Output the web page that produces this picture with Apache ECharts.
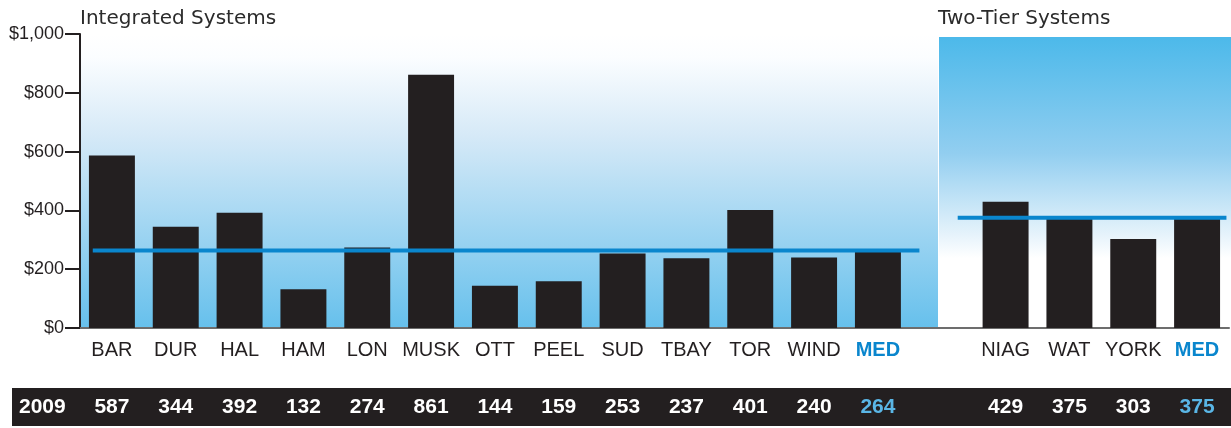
<!DOCTYPE html>
<html>
<head>
<meta charset="utf-8">
<script src="https://cdn.jsdelivr.net/npm/echarts@6/dist/echarts.min.js"></script>
<style>
  html, body { margin: 0; padding: 0; background: #fff; }
  #chart { width: 1231px; height: 428px; }
</style>
</head>
<body>
<div id="chart"></div>
<script>
  // 数据
  const leftTitle = 'Integrated Systems';
  const rightTitle = 'Two-Tier Systems';
  const yearLabel = '2009';
  const leftCats = ['BAR', 'DUR', 'HAL', 'HAM', 'LON', 'MUSK', 'OTT', 'PEEL', 'SUD', 'TBAY', 'TOR', 'WIND', 'MED'];
  const leftVals = [587, 344, 392, 132, 274, 861, 144, 159, 253, 237, 401, 240, 264];
  const rightCats = ['NIAG', 'WAT', 'YORK', 'MED'];
  const rightVals = [429, 375, 303, 375];
  const leftMedian = 264;
  const rightMedian = 375;
  const yTicks = [0, 200, 400, 600, 800, 1000];

  // 左右合并到一个类目轴，中间空一格
  const cats = [...leftCats, '', ...rightCats];
  const vals = [...leftVals, null, ...rightVals];
  const medIdx = [leftCats.length - 1, cats.length - 1];
  const valueLabels = vals.map(v => v == null ? '' : String(v));

  const sans = '"Liberation Sans", Arial, sans-serif';
  const myEcharts = echarts.init(document.getElementById('chart'));

  const option = {
    backgroundColor: '#ffffff',
    animation: false,
    title: [
      { text: leftTitle, left: 75, top: 4, textStyle: { fontFamily: 'DejaVu Sans', fontWeight: 'normal', fontSize: 20, color: '#2b2b2b' } },
      { text: rightTitle, left: 933, top: 4, textStyle: { fontFamily: 'DejaVu Sans', fontWeight: 'normal', fontSize: 20, color: '#2b2b2b' } }
    ],
    graphic: [
      { // 左侧背景
        type: 'rect', z: -10, silent: true,
        shape: { x: 80, y: 34, width: 858, height: 294 },
        style: {
          fill: new echarts.graphic.LinearGradient(0, 0, 0, 1, [
            { offset: 0, color: '#ffffff' },
            { offset: 0.08, color: '#fbfdff' },
            { offset: 0.35, color: '#d5e9f7' },
            { offset: 1, color: '#66c0ec' }
          ])
        }
      },
      { // 右侧背景
        type: 'rect', z: -10, silent: true,
        shape: { x: 939, y: 37, width: 292, height: 291 },
        style: {
          fill: new echarts.graphic.LinearGradient(0, 0, 0, 1, [
            { offset: 0, color: '#4cb9ea' },
            { offset: 0.4, color: '#92cef0' },
            { offset: 0.68, color: '#e6f3fb' },
            { offset: 0.76, color: '#ffffff' },
            { offset: 1, color: '#ffffff' }
          ])
        }
      },
      { // 底部黑条
        type: 'rect', z: -10, silent: true,
        shape: { x: 12, y: 388, width: 1219, height: 38 },
        style: { fill: '#231f20' }
      },
      {
        type: 'text', z: 10, silent: true,
        left: 19, top: 397,
        style: { text: yearLabel, fill: '#ffffff', font: 'bold 21px "Liberation Sans", Arial, sans-serif' }
      }
    ],
    grid: {
      left: 80,
      right: 2,
      top: 34,
      bottom: 100,
      containLabel: false,
      outerBoundsMode: 'none'
    },
    xAxis: [
      {
        type: 'category',
        position: 'bottom',
        data: cats,
        axisLine: { lineStyle: { color: '#6d6d6d', width: 2 } },
        axisTick: { inside: true, length: 6, lineStyle: { color: '#231f20', width: 2 } },
        axisLabel: {
          margin: 12,
          interval: 0,
          fontFamily: sans,
          fontSize: 20,
          color: '#231f20',
          formatter: (v, i) => medIdx.includes(i) ? '{m|' + v + '}' : v,
          rich: {
            m: { fontFamily: sans, fontSize: 20, fontWeight: 'bold', color: '#0a86cd' }
          }
        }
      },
      {
        type: 'category',
        position: 'bottom',
        offset: 58,
        data: valueLabels,
        axisLine: { show: false },
        axisTick: { show: false },
        axisLabel: {
          margin: 11,
          interval: 0,
          fontFamily: sans,
          fontSize: 21,
          fontWeight: 'bold',
          color: '#ffffff',
          formatter: (v, i) => medIdx.includes(i) ? '{m|' + v + '}' : v,
          rich: {
            m: { fontFamily: sans, fontSize: 21, fontWeight: 'bold', color: '#5ab6e6' }
          }
        }
      },
      { // 中位线用的数值轴（类目单位）
        type: 'value',
        position: 'top',
        show: false,
        min: 0,
        max: cats.length
      }
    ],
    yAxis: {
      type: 'value',
      min: yTicks[0],
      max: yTicks[yTicks.length - 1],
      interval: yTicks[1] - yTicks[0],
      splitLine: { show: false },
      axisLine: { show: true, lineStyle: { color: '#231f20', width: 2 } },
      axisTick: { show: true, length: 15, lineStyle: { color: '#231f20', width: 2 } },
      axisLabel: {
        margin: 16,
        fontFamily: sans,
        fontSize: 18,
        color: '#231f20',
        formatter: v => '$' + v.toLocaleString('en-US')
      }
    },
    series: [
      {
        type: 'bar',
        xAxisIndex: 0,
        data: vals,
        barWidth: '72%',
        itemStyle: { color: '#231f20' },
        z: 2
      },
      {
        type: 'line',
        xAxisIndex: 2,
        data: [[0.2, leftMedian], [13.15, leftMedian]],
        symbol: 'none',
        lineStyle: { color: '#0a86cd', width: 4 },
        z: 5
      },
      {
        type: 'line',
        xAxisIndex: 2,
        data: [[13.75, rightMedian], [17.96, rightMedian]],
        symbol: 'none',
        lineStyle: { color: '#0a86cd', width: 4 },
        z: 5
      }
    ]
  };

  myEcharts.setOption(option);
</script>
</body>
</html>
